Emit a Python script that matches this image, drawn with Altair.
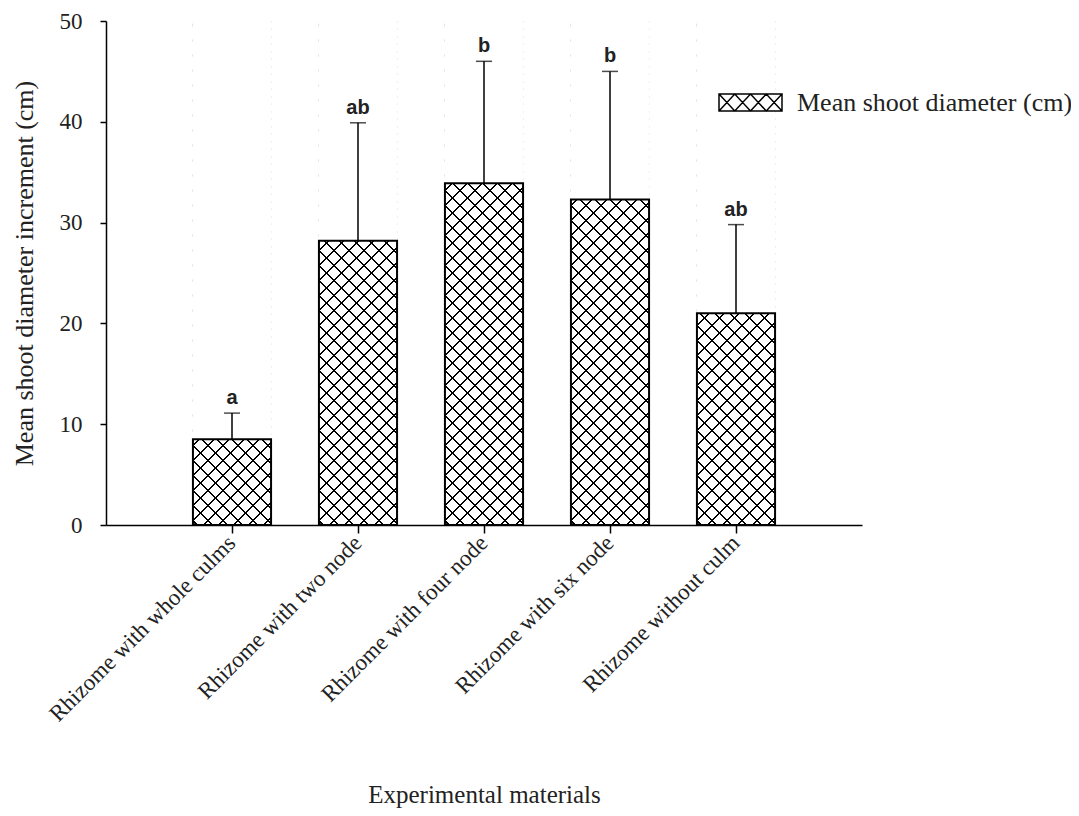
import altair as alt
import pandas as pd

# ---- data ----
materials = [
    "Rhizome with whole culms",
    "Rhizome with two node",
    "Rhizome with four node",
    "Rhizome with six node",
    "Rhizome without culm",
]
means = [8.5, 28.2, 33.9, 32.3, 21.0]
sds = [2.6, 11.7, 12.1, 12.7, 8.8]
letters = ["a", "ab", "b", "b", "ab"]
series_name = "Mean shoot diameter (cm)"
y_ticks = [0, 10, 20, 30, 40, 50]

df = pd.DataFrame({
    "material": materials,
    "mean": means,
    "sd": sds,
    "letter": letters,
    "series": [series_name] * len(materials),
})

# ---- layout / style ----
PLOT_W, PLOT_H = 756, 504
PAD_INNER, PAD_OUTER = 0.38, 0.69
STEP = PLOT_W / (len(materials) - PAD_INNER + 2 * PAD_OUTER)
BAND_W = STEP * (1 - PAD_INNER)
SERIF = "Liberation Serif"
TXT = "#222222"


def hatch_gradient(direction, bg, period=15.0, lw=1.7):
    W, H = BAND_W, PLOT_H
    L = W + H
    a = W * L / (W * W + H * H)
    b = H * L / (W * W + H * H)
    stops = [alt.GradientStop(color=bg, offset=0)]
    k = 0
    while True:
        s = (k * period + 4) / L
        if s >= 1:
            break
        e = min((k * period + 4 + lw) / L, 1.0)
        nxt = min(((k + 1) * period + 4) / L, 1.0)
        stops += [
            alt.GradientStop(color="black", offset=s),
            alt.GradientStop(color="black", offset=e),
            alt.GradientStop(color=bg, offset=e),
            alt.GradientStop(color=bg, offset=nxt),
        ]
        k += 1
    if direction == "A":
        return alt.LinearGradient(gradient="linear", stops=stops, x1=0, y1=0, x2=a, y2=b)
    return alt.LinearGradient(gradient="linear", stops=stops, x1=0, y1=1, x2=a, y2=1 - b)


xaxis = alt.Axis(
    title="Experimental materials",
    labelAngle=-45, labelAlign="right", labelBaseline="middle",
    labelFont=SERIF, labelFontSize=23, labelColor=TXT, labelPadding=6, labelLimit=0,
    tickSize=8, tickColor="black", tickWidth=1.5,
    domainColor="black", domainWidth=1.5,
    titleFont=SERIF, titleFontSize=25, titleFontWeight="normal", titleColor=TXT,
    titleX=PLOT_W / 2, titleY=277, titleAlign="center", titleBaseline="alphabetic",
)
yaxis = alt.Axis(
    title="Mean shoot diameter increment (cm)", values=y_ticks, grid=False,
    labelFont=SERIF, labelFontSize=23, labelColor=TXT, labelPadding=18,
    tickSize=6, tickColor="black", tickWidth=1.5,
    domainColor="black", domainWidth=1.5,
    titleFont=SERIF, titleFontSize=26, titleFontWeight="normal", titleColor=TXT,
    titleX=-82, titleY=PLOT_H / 2, titleAngle=270, titleAlign="center", titleBaseline="middle",
)
yscale = alt.Scale(domain=[0, 50], nice=False)
xenc = alt.X("material:N", sort=materials,
             scale=alt.Scale(paddingInner=PAD_INNER, paddingOuter=PAD_OUTER), axis=xaxis)

base = alt.Chart(df).encode(x=xenc).transform_calculate(upper="datum.mean + datum.sd")

hatch_a = base.mark_bar(fill=hatch_gradient("A", "white"), strokeWidth=0).encode(
    y=alt.Y(datum=0, type="quantitative", scale=yscale, axis=yaxis), y2=alt.Y2(datum=50))
hatch_b = base.mark_bar(fill=hatch_gradient("B", "transparent"), strokeWidth=0).encode(
    y=alt.Y(datum=0, type="quantitative", scale=yscale, axis=yaxis), y2=alt.Y2(datum=50))
cover = base.mark_bar(fill="white", strokeWidth=0).encode(
    y=alt.Y("mean:Q", scale=yscale, axis=yaxis), y2=alt.Y2(datum=50))

legend_path = ("M-1,-0.27H1V0.27H-1Z "
               "M-1,-0.27L-0.5,0.27L0,-0.27L0.5,0.27L1,-0.27 "
               "M-1,0.27L-0.5,-0.27L0,0.27L0.5,-0.27L1,0.27")
outline = base.mark_bar(fill="transparent", strokeWidth=2).encode(
    y=alt.Y("mean:Q", scale=yscale, axis=yaxis),
    stroke=alt.Stroke("series:N", scale=alt.Scale(range=["black"]), legend=alt.Legend(
        title=None, orient="none", legendX=612, legendY=49,
        symbolType=legend_path, symbolSize=3969, symbolStrokeWidth=1.5,
        symbolStrokeColor="black", symbolFillColor="white",
        labelFont=SERIF, labelFontSize=26, labelColor=TXT, labelOffset=14, labelLimit=0,
    )),
)
err = base.mark_rule(color="black", strokeWidth=1.5).encode(
    y=alt.Y("mean:Q", scale=yscale, axis=yaxis), y2="upper:Q")
cap = base.mark_tick(color="black", size=16, thickness=1.5, orient="horizontal").encode(
    y=alt.Y("upper:Q", scale=yscale, axis=yaxis))
text = base.mark_text(font="Liberation Sans", fontWeight="bold", fontSize=20,
                      baseline="bottom", dy=-5, color=TXT).encode(
    y=alt.Y("upper:Q", scale=yscale, axis=yaxis), text="letter:N")

chart = alt.layer(hatch_a, hatch_b, cover, outline, err, cap, text).properties(
    width=PLOT_W, height=PLOT_H,
    autosize=alt.AutoSizeParams(type="none"),
    padding={"left": 98, "top": 13, "right": 209, "bottom": 283},
    background="white",
).configure_view(stroke=None)

chart.save("out.html", embed_options={"renderer": "svg", "actions": False})
